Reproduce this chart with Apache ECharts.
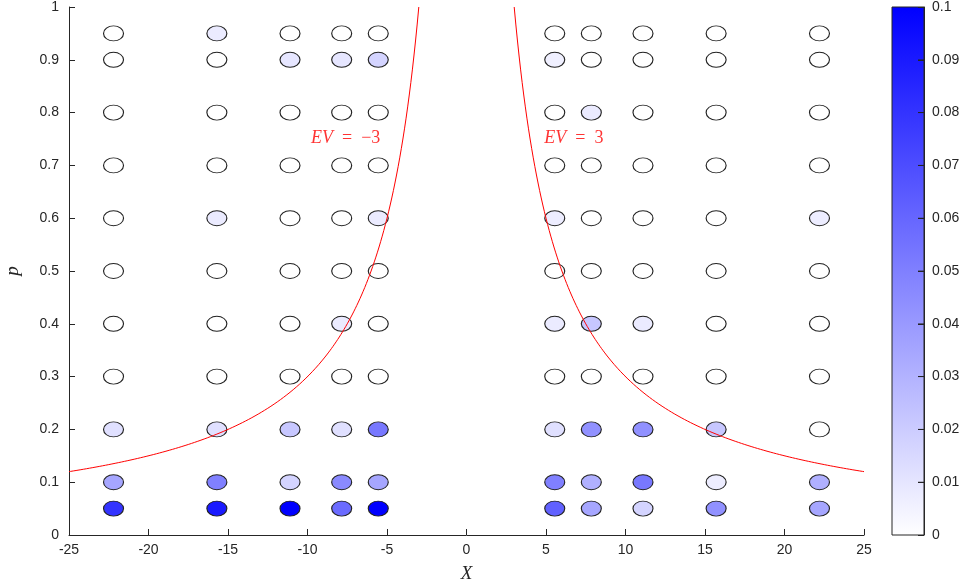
<!DOCTYPE html>
<html><head><meta charset="utf-8">
<script src="https://cdn.jsdelivr.net/npm/echarts@6/dist/echarts.min.js"></script>
<style>html,body{margin:0;padding:0;background:#fff}#c{width:969px;height:581px}</style>
</head><body><div id="c"></div>
<script>
var xVals = [-22.2, -15.7, -11.1, -7.85, -5.55, 5.55, 7.85, 11.1, 15.7, 22.2];
var pVals = [0.05, 0.1, 0.2, 0.3, 0.4, 0.5, 0.6, 0.7, 0.8, 0.9, 0.95];
// one row per p value, one column per X value
var v005 = [0.080, 0.090, 0.100, 0.058, 0.100, 0.062, 0.035, 0.017, 0.043, 0.035];
var v010 = [0.035, 0.050, 0.017, 0.046, 0.035, 0.050, 0.031, 0.053, 0.007, 0.031];
var v020 = [0.012, 0.012, 0.022, 0.012, 0.053, 0.012, 0.043, 0.043, 0.022, 0.000];
var v030 = [0, 0, 0, 0, 0, 0, 0, 0, 0, 0];
var v040 = [0, 0, 0, 0.008, 0, 0.008, 0.022, 0.008, 0, 0];
var v050 = [0, 0, 0, 0, 0, 0, 0, 0, 0, 0];
var v060 = [0, 0.008, 0, 0, 0.008, 0.007, 0, 0, 0, 0.007];
var v070 = [0, 0, 0, 0, 0, 0, 0, 0, 0, 0];
var v080 = [0, 0, 0, 0, 0, 0, 0.008, 0, 0, 0];
var v090 = [0, 0, 0.010, 0.010, 0.017, 0.006, 0, 0, 0, 0];
var v095 = [0, 0.008, 0, 0, 0, 0, 0, 0, 0, 0];
var rows = [v005, v010, v020, v030, v040, v050, v060, v070, v080, v090, v095];
var evLevels = [-3, 3];
var xTicks = [-25, -20, -15, -10, -5, 0, 5, 10, 15, 20, 25];
var yTicks = [0, 0.1, 0.2, 0.3, 0.4, 0.5, 0.6, 0.7, 0.8, 0.9, 1];
var cbTicks = [0, 0.01, 0.02, 0.03, 0.04, 0.05, 0.06, 0.07, 0.08, 0.09, 0.1];

var pts = [];
rows.forEach(function (r, i) { r.forEach(function (v, j) { pts.push([xVals[j], pVals[i], v]); }); });
var cbTickPts = cbTicks.slice(1, -1).map(function (v) { return [1, v]; });

function curve(ev) {
  var out = [];
  var s = ev > 0 ? 1 : -1;
  for (var k = 0; k <= 220; k++) {
    var ax = 3 + k * 0.1;
    out.push([s * ax, Math.abs(ev) / ax]);
  }
  return out;
}

var axisCol = '#262626';
var tickFont = {color: axisCol, fontSize: 14, fontFamily: 'Liberation Sans, Arial, sans-serif'};
var grad = new echarts.graphic.LinearGradient(0, 1, 0, 0, [{offset: 0, color: '#ffffff'}, {offset: 1, color: '#0000ff'}]);
var chart = echarts.init(document.getElementById('c'), null, {renderer: 'canvas'});
chart.setOption({
  animation: false,
  backgroundColor: '#fff',
  grid: [
    {left: 69, top: 7, width: 795, height: 528, containLabel: false, outerBoundsMode: 'none'},
    {left: 892, top: 7, width: 32, height: 528, containLabel: false, outerBoundsMode: 'none', z: 0,
     show: true, borderColor: axisCol, borderWidth: 1, backgroundColor: grad}
  ],
  xAxis: [
    {type: 'value', gridIndex: 0, min: -25, max: 25, interval: 5,
     axisLine: {show: true, onZero: false, lineStyle: {color: axisCol}},
     axisTick: {show: true, inside: true, length: 6, lineStyle: {color: axisCol}},
     axisLabel: Object.assign({margin: 8}, tickFont),
     splitLine: {show: false},
     name: 'X', nameLocation: 'middle', nameGap: 29,
     nameTextStyle: {fontFamily: 'Liberation Serif, serif', fontStyle: 'italic', fontSize: 19, color: axisCol}},
    {type: 'value', gridIndex: 1, min: 0, max: 1, show: false}
  ],
  yAxis: [
    {type: 'value', gridIndex: 0, min: 0, max: 1, interval: 0.1,
     axisLine: {show: true, onZero: false, lineStyle: {color: axisCol}},
     axisTick: {show: true, inside: true, length: 6, lineStyle: {color: axisCol}},
     axisLabel: Object.assign({margin: 10, formatter: function (v) { return v === 0 || v === 1 ? String(v) : v.toFixed(1); }}, tickFont),
     splitLine: {show: false},
     name: 'p', nameLocation: 'middle', nameGap: 47, nameRotate: 90,
     nameTextStyle: {fontFamily: 'Liberation Serif, serif', fontStyle: 'italic', fontSize: 19, color: axisCol}},
    {type: 'value', gridIndex: 1, min: 0, max: 0.1, interval: 0.01, position: 'right', z: 5,
     axisLine: {show: true, onZero: false, lineStyle: {color: axisCol}},
     axisTick: {show: true, inside: true, length: 6, lineStyle: {color: axisCol, width: 1}},
     axisLabel: Object.assign({margin: 8, formatter: function (v) { return String(+v.toFixed(2)); }}, tickFont),
     splitLine: {show: false}}
  ],
  visualMap: {show: false, seriesIndex: 0, dimension: 2, min: 0, max: 0.1, inRange: {color: ['#ffffff', '#0000ff']}},
  series: [
    {type: 'scatter', xAxisIndex: 0, yAxisIndex: 0, data: pts, symbol: 'circle', symbolSize: [20, 15],
     itemStyle: {borderColor: '#222', borderWidth: 1, opacity: 1}, z: 3},
    {type: 'line', xAxisIndex: 0, yAxisIndex: 0, data: curve(evLevels[0]), showSymbol: false, symbol: 'none',
     lineStyle: {color: '#ff0000', width: 1}, clip: true, z: 4},
    {type: 'line', xAxisIndex: 0, yAxisIndex: 0, data: curve(evLevels[1]), showSymbol: false, symbol: 'none',
     lineStyle: {color: '#ff0000', width: 1}, clip: true, z: 4},
    {type: 'scatter', xAxisIndex: 0, yAxisIndex: 0, symbolSize: 0, silent: true, z: 5,
     data: [[-7.6, 0.752, 'EV', '\u2002=\u2002\u22123'], [6.75, 0.752, 'EV', '\u2002=\u20023']],
     label: {show: true, position: 'inside', color: '#ff0000',
       formatter: function (p) { return '{i|' + p.data[2] + '}{n|' + p.data[3] + '}'; },
       rich: {i: {fontFamily: 'Liberation Serif, serif', fontStyle: 'italic', fontSize: 18, color: '#ff0000'},
              n: {fontFamily: 'Liberation Serif, serif', fontSize: 18, color: '#ff0000'}}}},
    {type: 'scatter', xAxisIndex: 1, yAxisIndex: 1, data: cbTickPts, symbol: 'rect', symbolSize: [6, 1],
     symbolOffset: [-3, 0], clip: false, silent: true, z: 6, itemStyle: {color: axisCol}}
  ]
});
</script></body></html>
